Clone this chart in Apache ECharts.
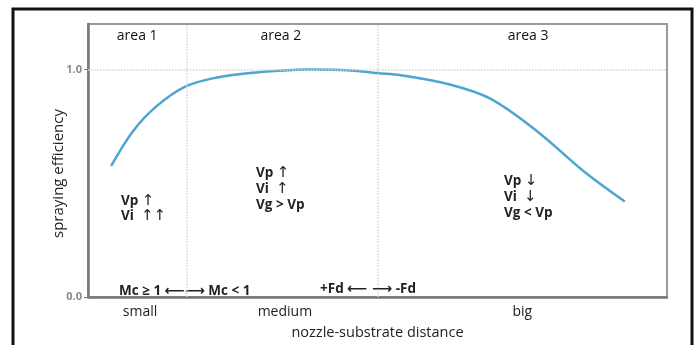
<!DOCTYPE html>
<html>
<head>
    <meta charset="utf-8">
    <title>spraying efficiency</title>
    <script src="https://cdn.jsdelivr.net/npm/echarts@6/dist/echarts.min.js"></script>
    <style>
        html, body { margin: 0; padding: 0; background: #fff; }
        #main { width: 699px; height: 345px; }
    </style>
</head>
<body>
<div id="main"></div>
<script type="text/javascript">
    // curve (x: 0..100 distance, y: efficiency)
    var distX = [4, 7.8, 11.9, 16.8, 22.3, 28, 33, 38.3, 45.3, 50, 54, 62.5, 69.4, 77.5, 85.5, 92.7];
    var effY = [0.576, 0.73, 0.84, 0.925, 0.965, 0.985, 0.995, 1.0, 0.996, 0.984, 0.975, 0.934, 0.873, 0.73, 0.555, 0.42];

    var sizeNames = ['small', 'medium', 'big'];
    var sizePos = [9, 34, 75];
    var areaNames = ['area 1', 'area 2', 'area 3'];
    var areaPos = [8.5, 33.3, 76];
    var bounds = [17, 50];
    var yTicks = [0, 1];

    var curve = [];
    for (var i = 0; i < distX.length; i++) {
        curve.push([distX[i], effY[i]]);
    }

    var chart = echarts.init(document.getElementById('main'));
    var font = '"Open Sans", "DejaVu Sans", sans-serif';

    function note(x, y, lines, lh) {
        return {
            type: 'text',
            left: x,
            top: y,
            style: {
                text: lines.join('\n'),
                font: 'bold 13.5px "Open Sans", sans-serif',
                fill: '#222',
                lineHeight: lh || 16,
                rich: {
                    a: {font: '15px "DejaVu Sans", sans-serif', fill: '#222', lineHeight: lh || 16},
                    b: {font: 'bold 14px "DejaVu Sans", sans-serif', fill: '#222'}
                }
            }
        };
    }

    var option = {
        animation: false,
        grid: {left: 88, right: 32, top: 24, bottom: 45, show: true, borderColor: '#9a9a9a', borderWidth: 2},
        xAxis: [{
            type: 'value',
            min: 0,
            max: 100,
            name: 'nozzle-substrate distance',
            nameLocation: 'middle',
            nameGap: 28,
            nameTextStyle: {fontFamily: font, fontSize: 14.5, color: '#222'},
            axisLine: {lineStyle: {color: '#777', width: 2.5}},
            axisTick: {show: false},
            splitLine: {show: false},
            axisLabel: {
                customValues: sizePos,
                margin: 8,
                fontFamily: font,
                fontSize: 14,
                color: '#222',
                formatter: function (v) { return sizeNames[sizePos.indexOf(v)]; }
            }
        }, {
            type: 'value',
            position: 'top',
            min: 0,
            max: 100,
            axisLine: {show: false},
            axisTick: {show: false},
            splitLine: {show: false},
            axisLabel: {
                inside: true,
                customValues: areaPos,
                margin: 5,
                fontFamily: font,
                fontSize: 14,
                color: '#111',
                formatter: function (v) { return areaNames[areaPos.indexOf(v)]; }
            }
        }],
        yAxis: {
            type: 'value',
            min: 0,
            max: 1.2,
            name: 'spraying efficiency',
            nameLocation: 'middle',
            nameGap: 22,
            nameMoveOverlap: false,
            nameTextStyle: {fontFamily: font, fontSize: 15, color: '#222', padding: [0, 26, 0, 0]},
            axisLine: {show: true, lineStyle: {color: '#777', width: 2.5}},
            axisTick: {show: true, customValues: yTicks, length: 4, lineStyle: {color: '#777'}},
            splitLine: {show: false},
            axisLabel: {
                customValues: yTicks,
                margin: 6,
                fontFamily: font,
                fontWeight: 'bold',
                fontSize: 11,
                color: '#8a8a8a',
                formatter: function (v) { return v.toFixed(1); }
            }
        },
        series: [{
            type: 'line',
            data: curve,
            smooth: 0.35,
            showSymbol: false,
            lineStyle: {color: '#4da6cf', width: 2.5},
            markLine: {
                silent: true,
                symbol: 'none',
                label: {show: false},
                lineStyle: {color: '#d4d4d4', type: 'dotted', width: 1.5},
                data: [{xAxis: bounds[0]}, {xAxis: bounds[1]}, {yAxis: 1}]
            }
        }],
        graphic: [
            {
                type: 'rect',
                shape: {x: 13, y: 9, width: 679, height: 350},
                style: {fill: 'none', stroke: '#111', lineWidth: 3},
                silent: true
            },
            note(121, 194, ['Vp {a|↑}', 'Vi  {a|↑↑}'], 15),
            note(256, 165, ['Vp {a|↑}', 'Vi  {a|↑}', 'Vg > Vp'], 16),
            note(504, 173, ['Vp {a|↓}', 'Vi  {a|↓}', 'Vg < Vp'], 16),
            note(119, 283, ['Mc ≥ 1 {b|⟵⟶} Mc < 1']),
            note(320, 281, ['+Fd {b|⟵ ⟶} -Fd'])
        ]
    };
    chart.setOption(option);
</script>
</body>
</html>
